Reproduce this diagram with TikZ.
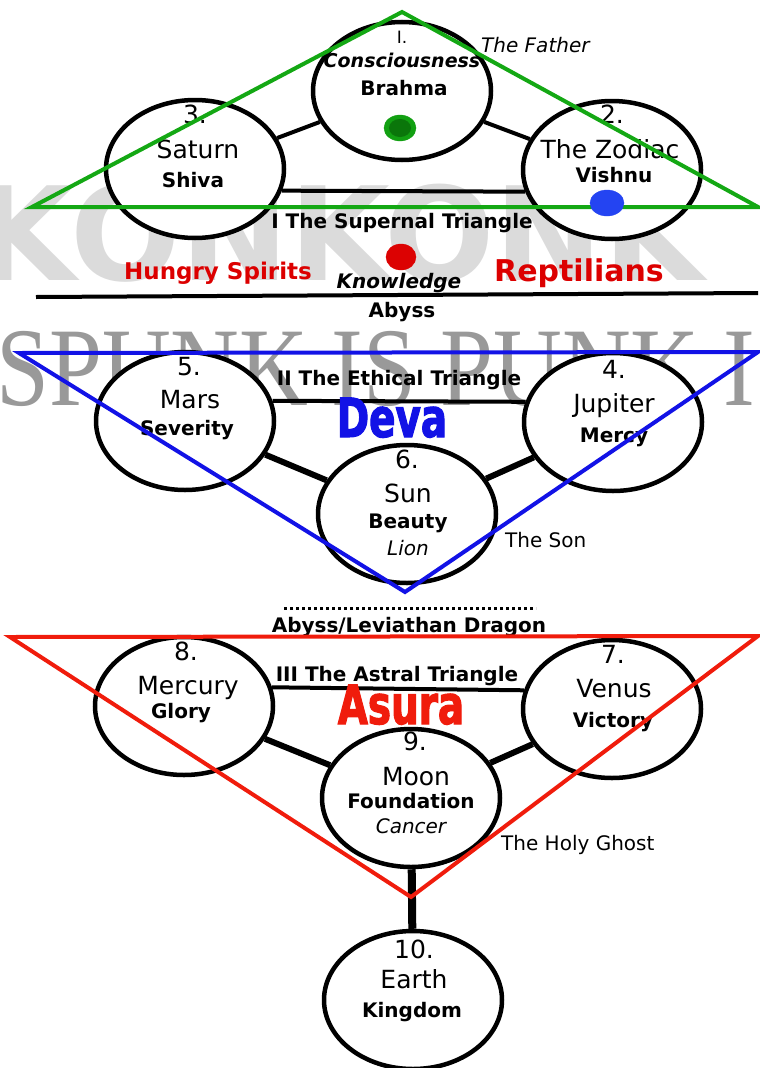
\documentclass[tikz,border=0pt]{standalone}
\usepackage{fontspec}
\setmainfont{DejaVu Sans}
\newfontfamily\heavyfont[FakeStretch=0.72,FakeBold=2]{DejaVu Sans Bold}
\newfontfamily\markfont[FakeStretch=0.85]{Liberation Serif}
\usepackage{tikz}
\usetikzlibrary{shapes.geometric}
\definecolor{tri_green}{HTML}{14A814}
\definecolor{tri_blue}{HTML}{1212E6}
\definecolor{tri_red}{HTML}{F01C0C}
\definecolor{txt_red}{HTML}{DC0000}
\definecolor{dot_green}{HTML}{12A012}
\definecolor{dot_dgreen}{HTML}{0A760A}
\definecolor{dot_blue}{HTML}{2444F2}
\definecolor{dot_red}{HTML}{DC0202}

\begin{document}
\begin{tikzpicture}[x=1pt, y=-1pt,
    sephira/.style={draw, ellipse, line width=4.5pt, fill=white, minimum width=178pt, minimum height=138pt, inner sep=0pt},
    link/.style={line width=4pt},
    heavylink/.style={line width=6pt},
    num/.style={font=\fontsize{25}{25}\selectfont, anchor=base, inner sep=0pt},
    title/.style={font=\bfseries\fontsize{20}{20}\selectfont, anchor=base, inner sep=0pt},
    boldit/.style={font=\bfseries\itshape\fontsize{20}{20}\selectfont, anchor=base, inner sep=0pt},
    side/.style={font=\fontsize{20}{20}\selectfont, anchor=base west, inner sep=0pt},
    triangle/.style={line width=4pt, line join=miter}]

            \useasboundingbox (0,0) rectangle (760,1068);

            % watermarks
            \node[font=\bfseries\fontsize{130}{130}\selectfont, text=black!14, anchor=base west, inner sep=0pt] (mark1) at (-25,280) {KONKONK};
            \node[font=\markfont\fontsize{112}{112}\selectfont, text=black!40, anchor=base west, inner sep=0pt] (mark2) at (-4,405) {SPUNK IS PUNK I};

            \node[sephira] (c1) at (402,91) {};
            \node[sephira] (c2) at (612,170) {};
            \node[sephira] (c3) at (195,169) {};
            \node[sephira] (c4) at (613,422) {};
            \node[sephira] (c5) at (185,421) {};
            \node[sephira] (c6) at (407,514) {};
            \node[sephira] (c7) at (612,709) {};
            \node[sephira] (c8) at (184,706) {};
            \node[sephira] (c9) at (411,798) {};
            \node[sephira] (c10) at (413,1000) {};

            \draw[link] (c1) -- (c3);
            \draw[link] (c1) -- (c2);
            \draw[link] (c3.346) -- (c2.194);
            \draw[link] (c5.13) -- (c4.167);
            \draw[heavylink] (c5) -- (c6);
            \draw[heavylink] (c4) -- (c6);
            \draw[link] (c8.12) -- (c7.168);
            \draw[heavylink] (c8) -- (c9);
            \draw[heavylink] (c7) -- (c9);
            \draw[line width=8pt] (c9) -- (c10);

            \coordinate (abyssL) at (36,297);
            \coordinate (abyssR) at (758,293);
            \draw[line width=4pt] (abyssL) -- (abyssR);
            \coordinate (dotL) at (284,608);
            \coordinate (dotR) at (536,608);
            \draw[line width=3pt, dash pattern=on 3pt off 3pt] (dotL) -- (dotR);

            % I
            \node[num, font=\fontsize{17}{17}\selectfont] (t1a) at (402,43) {I.};
            \node[boldit, font=\bfseries\itshape\fontsize{19}{19}\selectfont] (t1b) at (402,67) {Consciousness};
            \node[title] (t1c) at (404,95) {Brahma};
            \node[side, font=\itshape\fontsize{20}{20}\selectfont] (father) at (481,52) {The Father};
            \node[num] (t3a) at (195,123) {3.};
            \node[num] (t3b) at (198,158) {Saturn};
            \node[title] (t3c) at (193,187) {Shiva};
            \node[num] (t2a) at (612,123) {2.};
            \node[num] (t2b) at (610,158) {The Zodiac};
            \node[title] (t2c) at (614,182) {Vishnu};
            \node[title] (tri1) at (402,228) {I The Supernal Triangle};
            \node[title, text=txt_red, font=\bfseries\fontsize{23}{23}\selectfont] (hungry) at (218,279) {Hungry Spirits};
            \node[boldit] (know) at (399,288) {Knowledge};
            \node[title, text=txt_red, font=\bfseries\fontsize{30}{30}\selectfont] (rept) at (579,281) {Reptilians};
            \node[title] (abyss1) at (402,317) {Abyss};

            % II
            \node[num] (t5a) at (189,375) {5.};
            \node[num] (t5b) at (190,408) {Mars};
            \node[title] (t5c) at (187,435) {Severity};
            \node[title] (tri2) at (399,385) {II The Ethical Triangle};
            \node[num] (t4a) at (614,378) {4.};
            \node[num] (t4b) at (614,412) {Jupiter};
            \node[title] (t4c) at (614,442) {Mercy};
            \node[anchor=base, inner sep=0pt, text=tri_blue, font=\heavyfont\fontsize{54}{54}\selectfont] (deva) at (392,437) {Deva};
            \node[num] (t6a) at (407,468) {6.};
            \node[num] (t6b) at (408,502) {Sun};
            \node[title] (t6c) at (408,528) {Beauty};
            \node[num, font=\itshape\fontsize{20}{20}\selectfont] (t6d) at (408,555) {Lion};
            \node[side] (son) at (505,547) {The Son};

            % III
            \node[title] (abyss2) at (409,632) {Abyss/Leviathan Dragon};
            \node[num] (t8a) at (186,660) {8.};
            \node[num] (t8b) at (188,694) {Mercury};
            \node[title] (t8c) at (181,718) {Glory};
            \node[title] (tri3) at (397,681) {III The Astral Triangle};
            \node[num] (t7a) at (613,663) {7.};
            \node[num] (t7b) at (614,697) {Venus};
            \node[title] (t7c) at (613,727) {Victory};
            \node[anchor=base, inner sep=0pt, text=tri_red, font=\heavyfont\fontsize{54}{54}\selectfont] (asura) at (401,724) {Asura};
            \node[num] (t9a) at (415,750) {9.};
            \node[num] (t9b) at (416,785) {Moon};
            \node[title] (t9c) at (411,808) {Foundation};
            \node[num, font=\itshape\fontsize{20}{20}\selectfont] (t9d) at (411,833) {Cancer};
            \node[side] (ghost) at (501,850) {The Holy Ghost};
            \node[num] (t10a) at (414,958) {10.};
            \node[num] (t10b) at (414,988) {Earth};
            \node[title] (t10c) at (412,1017) {Kingdom};

            % triangles
            \draw[triangle, tri_green] (402,12) -- (32,207) -- (758,207) -- cycle;
            \draw[triangle, tri_blue] (19,353) -- (758,352) -- (405,592) -- cycle;
            \draw[triangle, tri_red] (10,637) -- (758,636) -- (411,897) -- cycle;

            \filldraw [dot_green] (400,128) ellipse (16pt and 13pt);
            \fill [dot_dgreen] (400,128) ellipse (11pt and 9pt);
            \filldraw [dot_blue] (607,203) ellipse (17pt and 13pt);
            \filldraw [dot_red] (401,257) ellipse (15pt and 13pt);

\end{tikzpicture}
\end{document}
